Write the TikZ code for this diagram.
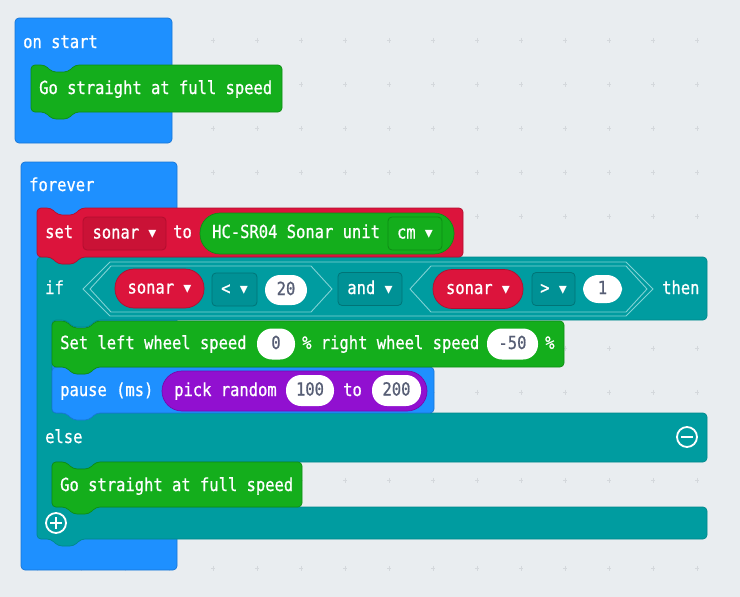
\documentclass[tikz,border=0pt]{standalone}
\usepackage{fontspec}
\usepackage{xcolor}
\usepackage{tikz}
\usetikzlibrary{positioning}
\newfontfamily\codefont[FakeStretch=0.86,FakeBold=0.8]{DejaVu Sans Mono}
\newfontfamily\symfont{DejaVu Sans}
\newcommand{\blockfont}{\codefont\fontsize{18}{20}\selectfont}
\newcommand{\ddarrow}{{\symfont\fontsize{16}{16}\selectfont ▾}}
\definecolor{bggray}{RGB}{233,237,240}
\definecolor{dotgray}{RGB}{212,216,220}
\definecolor{basicblue}{RGB}{30,144,255}
\definecolor{basicblueD}{RGB}{24,118,214}
\definecolor{gogreen}{RGB}{20,174,28}
\definecolor{gogreenD}{RGB}{14,140,20}
\definecolor{varred}{RGB}{220,20,60}
\definecolor{varredD}{RGB}{178,14,46}
\definecolor{varredM}{RGB}{202,18,54}
\definecolor{logicteal}{RGB}{0,156,160}
\definecolor{logictealD}{RGB}{0,136,140}
\definecolor{logictealM}{RGB}{0,145,149}
\definecolor{logictealL}{RGB}{128,210,212}
\definecolor{mathpurple}{RGB}{145,16,208}
\definecolor{mathpurpleD}{RGB}{118,10,172}
\definecolor{numgray}{RGB}{87,94,117}
% stack block: style, left, top, right, bottom (notch on top, tab below)
\newcommand{\blockshape}[5]{%
  \draw[#1, line width=0.7pt, rounded corners=4] (#2,#3) -- ({#2+14},#3) -- ({#2+21},{#3+7})
    -- ({#2+37},{#3+7}) -- ({#2+44},#3) -- (#4,#3) -- (#4,#5) -- ({#2+44},#5)
    -- ({#2+37},{#5+7}) -- ({#2+21},{#5+7}) -- ({#2+14},#5) -- (#2,#5) -- cycle;}
% boolean hexagon: style, left, right, top, bottom, slant
\newcommand{\hexshape}[6]{%
  \draw[#1] (#2,{(#4+#5)/2}) -- ({#2+#6},#4) -- ({#3-#6},#4) -- (#3,{(#4+#5)/2})
    -- ({#3-#6},#5) -- ({#2+#6},#5) -- cycle;}

\begin{document}
\begin{tikzpicture}[x=1pt,y=-1pt,
    lbl/.style={font=\blockfont, text=white, inner sep=0pt, anchor=west, text height=13pt, text depth=3pt},
    pill/.style={font=\blockfont, text=numgray, fill=white, inner sep=0pt, text height=13pt, text depth=3pt,
      minimum height=31pt, rounded corners=15pt},
    dd/.style={font=\blockfont, text=white, inner sep=0pt, text height=13pt, text depth=3pt,
      minimum height=33pt, rounded corners=4pt, line width=0.8pt},
    reporter/.style={font=\blockfont, text=white, inner sep=0pt, text height=13pt, text depth=3pt,
      line width=0.7pt}]
    \fill[bggray] (0,0) rectangle (740,597);
    \useasboundingbox (0,0) rectangle (740,597);
    % Grid marks
    \foreach \gx in {37,81,...,730}
      \foreach \gy in {40,84,...,580}
        \draw[dotgray, line width=0.8pt] (\gx-2,\gy) -- (\gx+2,\gy) (\gx,\gy-2.5) -- (\gx,\gy+2.5);
    % on start
    \draw[basicblueD, fill=basicblue, line width=0.7pt, rounded corners=4] (15,18) rectangle (172,143);
    \node[lbl] (onstart) at (23,43) {on start};
    \blockshape{draw=gogreenD, fill=gogreen}{31}{65}{282}{112}
    \node[lbl] (gostart) at (39,89) {Go straight at full speed};
    % forever
    \draw[basicblueD, fill=basicblue, line width=0.7pt, rounded corners=4] (21,162) rectangle (177,570);
    \node[lbl] (forever) at (29,186) {forever};
    % if / else
    \draw[logictealD, fill=logicteal, line width=0.7pt, rounded corners=4]
      (37,257) -- (51,257) -- (58,264) -- (74,264) -- (81,257) -- (707,257) -- (707,320)
      -- (96,320) -- (89,327) -- (73,327) -- (66,320) -- (52,320) -- (52,413) -- (707,413)
      -- (707,462) -- (96,462) -- (89,469) -- (73,469) -- (66,462) -- (52,462) -- (52,507)
      -- (707,507) -- (707,539) -- (81,539) -- (74,546) -- (58,546) -- (51,539) -- (37,539) -- cycle;
    \node[lbl] (if) at (45,289) {if};
    \hexshape{fill=logicteal, draw=logictealL, line width=0.9pt}{83}{653}{262}{316}{27}
    \hexshape{fill=logicteal, draw=logictealL, line width=0.9pt}{90}{332}{266}{312}{21}
    \hexshape{fill=logicteal, draw=logictealL, line width=0.9pt}{410}{647}{266}{312}{21}
    \node[reporter, fill=varred, draw=varredD, rounded corners=19pt, minimum width=89pt, minimum height=39pt]
      (sonarA) at (159.5,288.5) {sonar \ddarrow};
    \node[dd, fill=logictealM, draw=logictealD!85!black, minimum width=45pt] (lt) at (234.5,289.5) {< \ddarrow};
    \node[pill, minimum width=42pt, minimum height=30pt] (twenty) at (286,290) {20};
    \node[dd, fill=logictealM, draw=logictealD!85!black, minimum width=64pt] (and) at (370,289) {and \ddarrow};
    \node[reporter, fill=varred, draw=varredD, rounded corners=19pt, minimum width=90pt, minimum height=39pt]
      (sonarB) at (478,289) {sonar \ddarrow};
    \node[dd, fill=logictealM, draw=logictealD!85!black, minimum width=43pt] (gt) at (553.5,289) {> \ddarrow};
    \node[pill, minimum width=39pt, minimum height=28pt] (one) at (602.5,289) {1};
    \node[lbl] (then) at (662,289) {then};
    \node[lbl] (else) at (45,438) {else};
    \draw[white, line width=1.8pt] (687,437) circle (10);
    \draw[white, line width=2.4pt] (681,437) -- (693,437);
    \draw[white, line width=1.8pt] (56,523) circle (10);
    \draw[white, line width=2.4pt] (50,523) -- (62,523) (56,517) -- (56,529);
    % set sonar
    \blockshape{draw=varredD, fill=varred}{37}{208}{463}{257}
    \node[lbl] (set) at (45,233) {set};
    \node[dd, fill=varredM, draw=varredD, minimum width=83pt] (sonarvar) at (124.5,233.5) {sonar \ddarrow};
    \node[lbl] (to) at (173,233) {to};
    \node[reporter, fill=gogreen, draw=gogreenD, rounded corners=20pt, minimum width=254pt, minimum height=41pt]
      (hcsr) at (327,233.5) {};
    \node[lbl] (hctext) at (212,233) {HC-SR04 Sonar unit};
    \node[dd, fill=gogreen, draw=gogreenD, minimum width=54pt] (cm) at (415,233.5) {cm \ddarrow};
    % inner statements
    \blockshape{draw=basicblueD, fill=basicblue}{52}{367}{434}{413}
    \node[lbl] (pause) at (60,391) {pause (ms)};
    \node[reporter, fill=mathpurple, draw=mathpurpleD, rounded corners=20pt, minimum width=265pt, minimum height=40pt]
      (rand) at (294.5,391) {};
    \node[lbl] (picktext) at (174,391) {pick random};
    \node[pill, minimum width=48pt] (hundred) at (310,390.5) {100};
    \node[lbl] (to2) at (343,391) {to};
    \node[pill, minimum width=49pt] (twohundred) at (396.5,390.5) {200};
    \blockshape{draw=gogreenD, fill=gogreen}{52}{321}{564}{367}
    \node[lbl] (setleft) at (60,344) {Set left wheel speed};
    \node[pill, minimum width=38pt] (zero) at (276,344) {0};
    \node[lbl] (right) at (302,344) {\% right wheel speed};
    \node[pill, minimum width=51pt] (minus50) at (512.5,344) {-50};
    \node[lbl] (pct) at (545,344) {\%};
    \blockshape{draw=gogreenD, fill=gogreen}{52}{462}{302}{507}
    \node[lbl] (goelse) at (60,486) {Go straight at full speed};
\end{tikzpicture}
\end{document}
